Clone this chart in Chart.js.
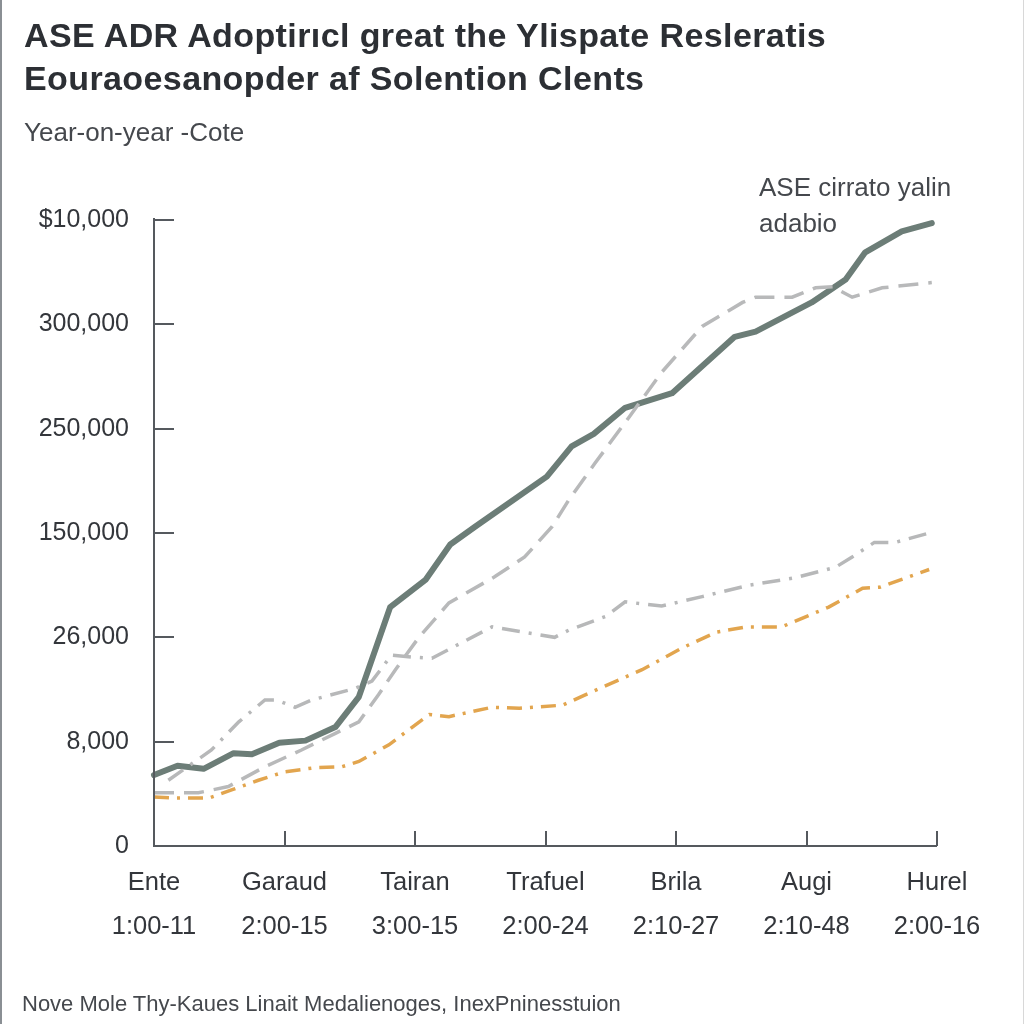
<!DOCTYPE html>
<html>
<head>
<meta charset="utf-8">
<script src="https://cdn.jsdelivr.net/npm/chart.js@4.4.1/dist/chart.umd.min.js"></script>
<style>
  html, body { margin: 0; padding: 0; background: #fff; }
  #wrap { position: relative; width: 1024px; height: 1024px; overflow: hidden; font-family: "Liberation Sans", Arial, sans-serif; box-sizing: border-box; border-left: 2px solid #8a8f94; border-right: 1px solid #d8d8d8; }
  #chart { position: absolute; left: 0; top: 0; }
  .txt { position: absolute; white-space: nowrap; color: #3a3d42; }
  #title { left: 22px; top: 14px; font-size: 34px; font-weight: bold; line-height: 43px; color: #2c2f34; letter-spacing: 0.4px; }
  #sub { left: 22px; top: 116px; font-size: 26px; line-height: 32px; color: #45484d; }
  #note { left: 757px; top: 169px; font-size: 26px; line-height: 36px; color: #45484d; }
  #foot { left: 20px; top: 991px; font-size: 22px; line-height: 26px; color: #45484d; }
</style>
</head>
<body>
<div id="wrap">
  <canvas id="chart" width="1024" height="1024"></canvas>
  <div class="txt" id="title">ASE ADR Adoptirıcl great the Ylispate Resleratis<br>Eouraoesanopder af Solention Clents</div>
  <div class="txt" id="sub">Year-on-year -Cote</div>
  <div class="txt" id="note">ASE cirrato yalin<br>adabio</div>
  <div class="txt" id="foot">Nove Mole Thy-Kaues Linait Medalienoges, InexPninesstuion</div>
</div>
<script>
// axis labels
const yTickLabels = ['0', '8,000', '26,000', '150,000', '250,000', '300,000', '$10,000'];
const xNames = ['Ente', 'Garaud', 'Tairan', 'Trafuel', 'Brila', 'Augi', 'Hurel'];
const xTimes = ['1:00-11', '2:00-15', '3:00-15', '2:00-24', '2:10-27', '2:10-48', '2:00-16'];

// main series (solid)
const mainX = [0, 0.18, 0.38, 0.61, 0.75, 0.96, 1.16, 1.39, 1.57, 1.81, 2.08, 2.27, 2.46, 3.01, 3.20, 3.37, 3.61, 3.97, 4.45, 4.61, 5.04, 5.30, 5.45, 5.73, 5.96];
const mainY = [0.68, 0.77, 0.74, 0.89, 0.88, 0.99, 1.01, 1.14, 1.43, 2.29, 2.55, 2.89, 3.06, 3.54, 3.83, 3.95, 4.20, 4.34, 4.88, 4.93, 5.21, 5.43, 5.69, 5.89, 5.97];

// upper gray dashed
const upperX = [0, 0.34, 0.57, 0.85, 1.13, 1.39, 1.57, 1.72, 1.85, 2.03, 2.26, 2.61, 2.84, 3.05, 3.18, 3.38, 3.64, 3.89, 4.20, 4.51, 4.61, 4.89, 5.07, 5.20, 5.35, 5.58, 5.96];
const upperY = [0.51, 0.51, 0.57, 0.76, 0.92, 1.08, 1.19, 1.45, 1.69, 2.00, 2.33, 2.58, 2.77, 3.06, 3.32, 3.67, 4.11, 4.54, 4.98, 5.21, 5.26, 5.26, 5.35, 5.36, 5.26, 5.35, 5.40];

// middle gray dash-dot
const middleX = [0.11, 0.44, 0.65, 0.85, 0.94, 1.08, 1.21, 1.54, 1.67, 1.82, 1.99, 2.13, 2.59, 3.07, 3.18, 3.46, 3.61, 3.89, 4.20, 4.56, 4.91, 5.22, 5.35, 5.52, 5.68, 5.94];
const middleY = [0.63, 0.92, 1.19, 1.40, 1.40, 1.33, 1.40, 1.51, 1.58, 1.83, 1.81, 1.80, 2.10, 2.00, 2.07, 2.20, 2.34, 2.30, 2.39, 2.50, 2.57, 2.67, 2.77, 2.91, 2.91, 3.00];

// orange dashed
const orangeX = [0, 0.16, 0.42, 0.60, 0.80, 1.00, 1.23, 1.44, 1.57, 1.80, 1.98, 2.11, 2.26, 2.59, 2.80, 3.13, 3.36, 3.74, 4.05, 4.31, 4.54, 4.81, 5.17, 5.43, 5.56, 5.94];
const orangeY = [0.47, 0.46, 0.46, 0.54, 0.63, 0.71, 0.75, 0.76, 0.81, 0.97, 1.14, 1.26, 1.24, 1.33, 1.32, 1.35, 1.48, 1.69, 1.90, 2.05, 2.10, 2.10, 2.29, 2.47, 2.48, 2.65];

const pts = (xs, ys) => xs.map((x, i) => ({ x: x, y: ys[i] }));

const AXIS = '#55595e';
const FONT = "'Liberation Sans', Arial, sans-serif";

// short tick marks pointing into the plot
const innerTicks = {
  id: 'innerTicks',
  afterDraw(chart) {
    const { ctx, scales: { x, y } } = chart;
    ctx.save();
    ctx.strokeStyle = AXIS;
    ctx.lineWidth = 2;
    ctx.beginPath();
    for (let v = 1; v <= 6; v++) {
      const py = Math.round(y.getPixelForValue(v));
      ctx.moveTo(x.left, py);
      ctx.lineTo(x.left + 20, py);
      const px = Math.round(x.getPixelForValue(v));
      ctx.moveTo(px, y.bottom);
      ctx.lineTo(px, y.bottom - 15);
    }
    ctx.moveTo(x.left, y.top - 2);
    ctx.lineTo(x.left, y.bottom);
    ctx.lineTo(x.right, y.bottom);
    ctx.stroke();
    ctx.restore();
  }
};

new Chart(document.getElementById('chart'), {
  type: 'line',
  data: {
    datasets: [
      {
        label: 'Upper',
        data: pts(upperX, upperY),
        borderColor: '#b8b9ba',
        borderWidth: 3.5,
        borderDash: [20, 10],
        pointRadius: 0,
        tension: 0
      },
      {
        label: 'Middle',
        data: pts(middleX, middleY),
        borderColor: '#b7b8b9',
        borderWidth: 3.5,
        borderDash: [18, 9, 3, 9],
        pointRadius: 0,
        tension: 0
      },
      {
        label: 'Orange',
        data: pts(orangeX, orangeY),
        borderColor: '#e2a54e',
        borderWidth: 3.5,
        borderDash: [15, 8, 3, 8],
        pointRadius: 0,
        tension: 0
      },
      {
        label: 'Main',
        data: pts(mainX, mainY),
        borderColor: '#6c7d77',
        borderWidth: 6,
        borderCapStyle: 'round',
        borderJoinStyle: 'round',
        pointRadius: 0,
        tension: 0
      }
    ]
  },
  options: {
    responsive: false,
    animation: false,
    clip: false,
    layout: {
      padding: { left: 0, top: 220, right: 89, bottom: 68 }
    },
    plugins: {
      legend: { display: false },
      tooltip: { enabled: false }
    },
    scales: {
      x: {
        type: 'linear',
        min: 0,
        max: 6,
        grid: { display: false, drawTicks: false },
        border: { display: false },
        afterFit: (s) => { s.height = 110; },
        ticks: {
          stepSize: 1,
          autoSkip: false,
          maxRotation: 0,
          padding: 15,
          color: '#33363b',
          font: { family: FONT, size: 25.5, lineHeight: 1.72 },
          callback: (v) => [xNames[v], xTimes[v]]
        }
      },
      y: {
        min: 0,
        max: 6,
        grid: { display: false, drawTicks: false },
        border: { display: false },
        afterFit: (s) => { s.width = 152; },
        ticks: {
          stepSize: 1,
          padding: 25,
          color: '#33363b',
          font: { family: FONT, size: 25 },
          callback: (v) => yTickLabels[v]
        }
      }
    }
  },
  plugins: [innerTicks]
});
</script>
</body>
</html>
